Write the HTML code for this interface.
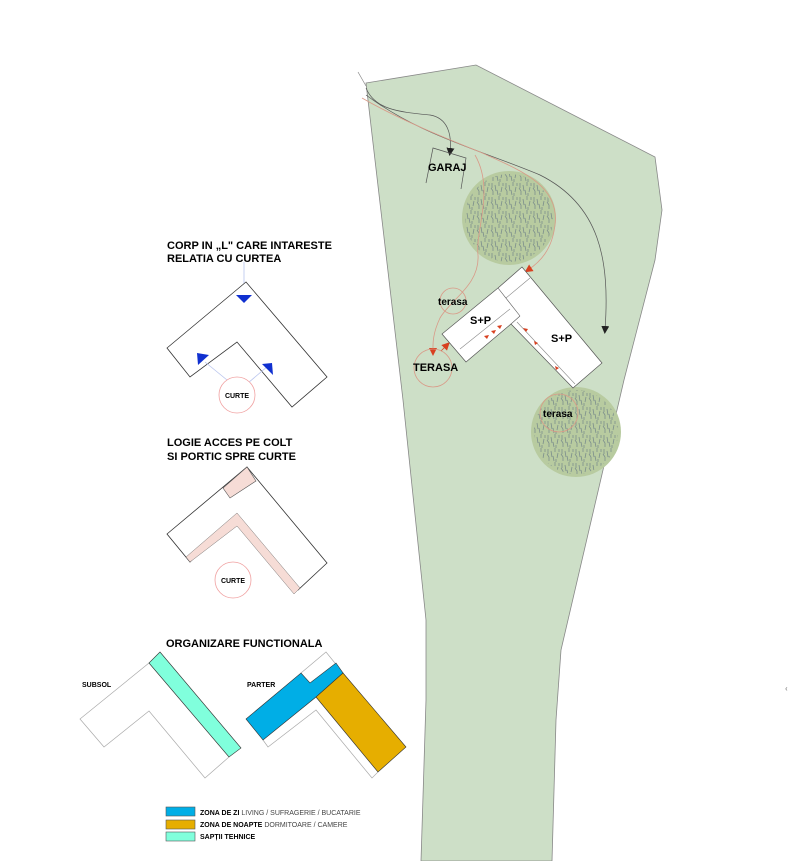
<!DOCTYPE html>
<html><head><meta charset="utf-8"><style>
html,body{margin:0;padding:0;background:#fff}
svg{display:block}
text{font-family:"Liberation Sans",sans-serif;font-weight:bold;fill:#000}
</style></head><body>
<svg width="792" height="861" viewBox="0 0 792 861" xmlns="http://www.w3.org/2000/svg">
<defs>
<pattern id="foliage" width="14" height="14" patternUnits="userSpaceOnUse">
<path d="M2 1v5M5 3l1 6M9 0v4M12 5l-1 5M3 9v4M7 8l1 5M10 11v3M1 6l2 3M13 1v3" stroke="#7c8e8c" stroke-width="0.8" fill="none"/>
</pattern>
<marker id="ab" markerWidth="8" markerHeight="8" refX="4" refY="4" orient="auto" markerUnits="userSpaceOnUse"><path d="M0 0L8 4L0 8z" fill="#222"/></marker>
<marker id="ar" markerWidth="8" markerHeight="8" refX="4" refY="4" orient="auto" markerUnits="userSpaceOnUse"><path d="M0 0L8 4L0 8z" fill="#d84020"/></marker>
</defs>

<!-- site -->
<path d="M366 83 L476 65 L655 157 L662 210 L655 260 L624 380 L561 650 L556 720 L552 861 L421 861 L426 700 L426 620 L403 400 Z" fill="#cddfc7" stroke="#888" stroke-width="0.8"/>
<line x1="358" y1="72" x2="366" y2="86" stroke="#888" stroke-width="0.7"/>

<!-- trees -->
<circle cx="509" cy="218" r="47" fill="#b8cba0"/>
<circle cx="509" cy="218" r="44" fill="url(#foliage)"/>
<circle cx="576" cy="432" r="45" fill="#b8cba0"/>
<circle cx="576" cy="432" r="42" fill="url(#foliage)"/>

<!-- paths -->
<path d="M366 88 C375 110 400 112 430 115 C448 118 452 135 450 152" fill="none" stroke="#555" stroke-width="0.7" marker-end="url(#ab)"/>
<path d="M366 95 C420 135 480 150 540 175 C600 205 610 260 605 330" fill="none" stroke="#555" stroke-width="0.7" marker-end="url(#ab)"/>
<path d="M362 98 C400 120 450 140 480 152 C520 170 560 185 555 225 C552 250 540 262 528 270" fill="none" stroke="#d99a88" stroke-width="0.8" marker-end="url(#ar)"/>
<path d="M475 155 C495 190 475 230 478 255 C480 285 450 300 440 318 C432 335 433 345 433 352" fill="none" stroke="#d99a88" stroke-width="0.8" marker-end="url(#ar)"/>
<line x1="441" y1="351" x2="447" y2="345" stroke="#d84020" stroke-width="0.8" marker-end="url(#ar)"/>

<!-- garage -->
<path d="M426 183 L433 148 L466 158 L461 189" fill="none" stroke="#555" stroke-width="0.7"/>
<text x="428" y="171" font-size="11">GARAJ</text>

<!-- building -->
<polygon points="498,288 522,267 602,363 573,388 511,324 466,362 442,334 498,288" fill="#fff" stroke="#555" stroke-width="0.7"/>
<line x1="506" y1="298" x2="530" y2="278" stroke="#888" stroke-width="0.6"/>
<line x1="498" y1="288" x2="520" y2="316" stroke="#555" stroke-width="0.6"/>
<line x1="520" y1="316" x2="511" y2="324" stroke="#555" stroke-width="0.6"/>
<line x1="460" y1="349" x2="510" y2="309" stroke="#888" stroke-width="0.6"/>
<line x1="517" y1="322" x2="575" y2="384" stroke="#888" stroke-width="0.6"/>
<g fill="#d84020">
<path d="M484 336l5-1-2 4z"/><path d="M491 331l5-1-2 4z"/><path d="M497 326l5-1-2 4z"/>
<path d="M523 328l5 1-2 3z"/><path d="M534 341l4 2-3 2z"/><path d="M555 366l4 2-3 2z"/>
</g>
<text x="470" y="324" font-size="11">S+P</text>
<text x="551" y="342" font-size="11">S+P</text>

<!-- terrace circles -->
<circle cx="453" cy="301" r="13" fill="none" stroke="#d99a88" stroke-width="0.8"/>
<text x="438" y="305" font-size="10">terasa</text>
<circle cx="433" cy="368" r="19" fill="none" stroke="#d99a88" stroke-width="0.8"/>
<text x="413" y="371" font-size="11">TERASA</text>
<circle cx="559" cy="413" r="19" fill="none" stroke="#d99a88" stroke-width="0.8"/>
<text x="543" y="417" font-size="10">terasa</text>
<text x="785" y="691" font-size="8" font-weight="normal" fill="#999" style="fill:#999">‹</text>

<!-- diagram 1 -->
<text x="167" y="249" font-size="11">CORP IN „L" CARE INTARESTE</text>
<text x="167" y="262" font-size="11">RELATIA CU CURTEA</text>
<line x1="244" y1="262" x2="244" y2="296" stroke="#b8c4ee" stroke-width="0.8"/>
<polygon points="246,282 327,377 292,407 237,342 190,377 167,348" fill="#fff" stroke="#333" stroke-width="0.8"/>
<line x1="227" y1="380" x2="205" y2="362" stroke="#b8c4ee" stroke-width="0.8"/>
<line x1="248" y1="383" x2="268" y2="366" stroke="#b8c4ee" stroke-width="0.8"/>
<polygon points="236,295 252,295 244,303" fill="#1030d0"/>
<polygon points="197,353 209,355 198,365" fill="#1030d0"/>
<polygon points="262,364 272,363 273,375" fill="#1030d0"/>
<circle cx="237" cy="395" r="18" fill="#fff" stroke="#f0a0a0" stroke-width="0.8"/>
<text x="237" y="398" font-size="7" text-anchor="middle">CURTE</text>

<!-- diagram 2 -->
<text x="167" y="446" font-size="11">LOGIE ACCES PE COLT</text>
<text x="167" y="460" font-size="11">SI PORTIC SPRE CURTE</text>
<polygon points="247,467 327,563 298,590 237,514 190,562 167,534" fill="#fff" stroke="#333" stroke-width="0.8"/>
<polygon points="223,488 247,467 256,481 230,498" fill="#f6dcd6" stroke="#555" stroke-width="0.6"/>
<polygon points="186,557 237,513 300,588 294,594 237,526 190,562" fill="#f6dcd6" stroke="#555" stroke-width="0.4"/>
<circle cx="233" cy="580" r="18" fill="#fff" stroke="#f0a0a0" stroke-width="0.8"/>
<text x="233" y="583" font-size="7" text-anchor="middle">CURTE</text>

<!-- diagram 3 -->
<text x="166" y="647" font-size="11">ORGANIZARE FUNCTIONALA</text>
<text x="82" y="687" font-size="7">SUBSOL</text>
<text x="247" y="687" font-size="7">PARTER</text>
<polygon points="80,719 149,663 229,757 205,778 149,711 104,747" fill="#fff" stroke="#aaa" stroke-width="0.7"/>
<polygon points="149,663 160,652 241,748 229,757" fill="#80ffdc" stroke="#333" stroke-width="0.6"/>

<polygon points="301,673 326,652 343,673 316,697" fill="#fff" stroke="#aaa" stroke-width="0.7"/>
<polygon points="263,740 268,747 316,710 372,778 378,772 316,697" fill="#fff" stroke="#aaa" stroke-width="0.7"/>
<polygon points="246,719 301,673 310,683 336,663 343,673 316,697 263,740" fill="#00aee6" stroke="#333" stroke-width="0.6"/>
<polygon points="343,673 406,747 378,772 316,697" fill="#e6ae00" stroke="#333" stroke-width="0.6"/>

<!-- legend -->
<rect x="166" y="807" width="29" height="9" fill="#00aee6" stroke="#555" stroke-width="0.6"/>
<rect x="166" y="820" width="29" height="9" fill="#e6ae00" stroke="#555" stroke-width="0.6"/>
<rect x="166" y="832" width="29" height="9" fill="#80ffdc" stroke="#555" stroke-width="0.6"/>
<text x="200" y="815" font-size="7">ZONA DE ZI <tspan font-weight="normal" fill="#444">LIVING / SUFRAGERIE / BUCATARIE</tspan></text>
<text x="200" y="827" font-size="7">ZONA DE NOAPTE <tspan font-weight="normal" fill="#444">DORMITOARE / CAMERE</tspan></text>
<text x="200" y="839" font-size="7">SAPȚII TEHNICE</text>
</svg>
</body></html>
